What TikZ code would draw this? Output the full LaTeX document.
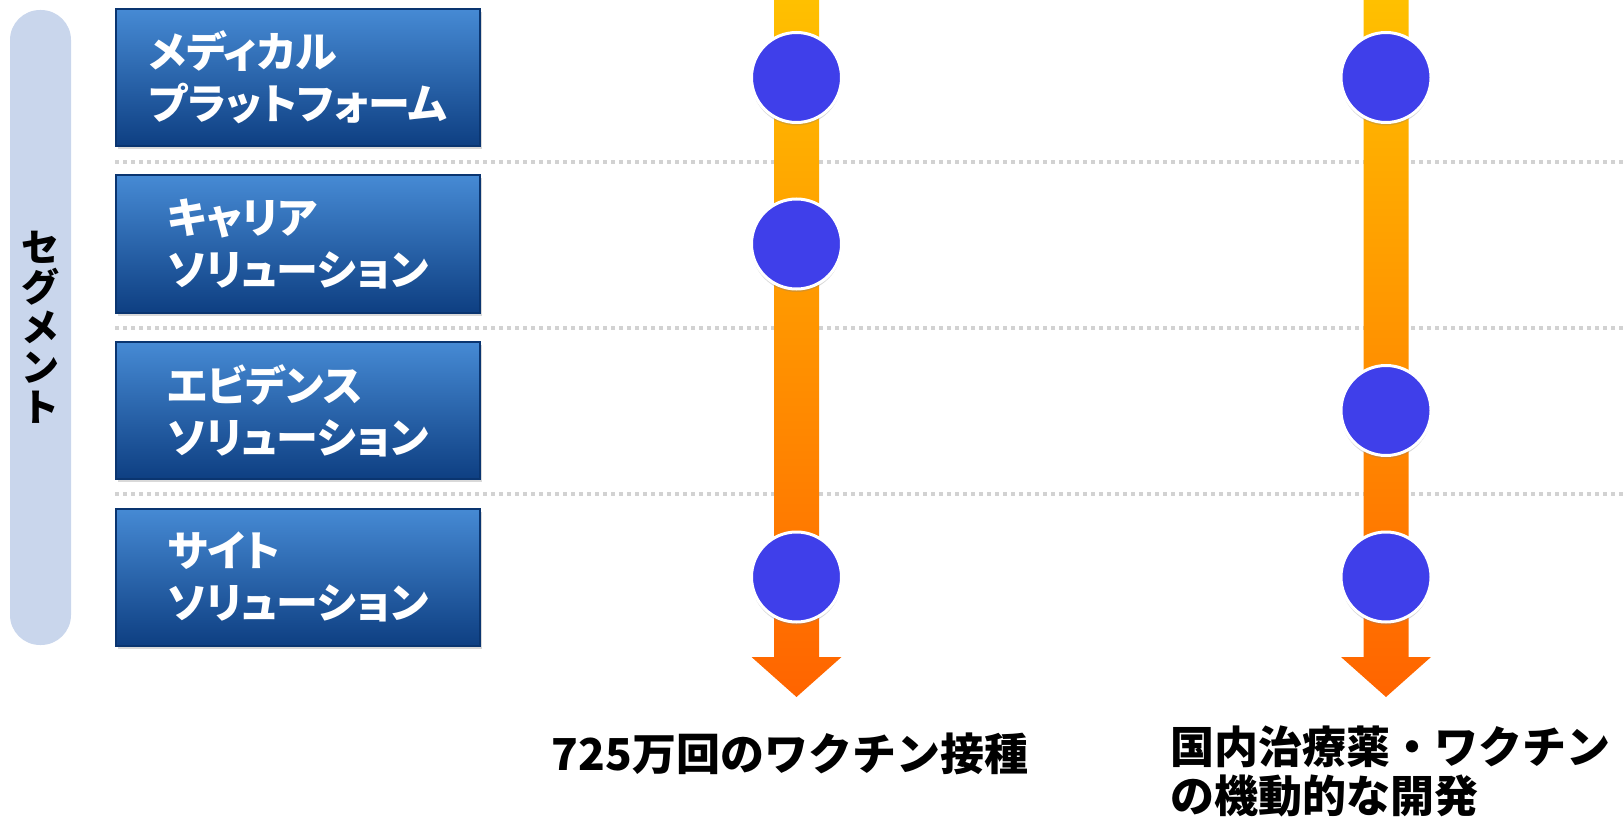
\documentclass[tikz,border=0pt]{standalone}
\usepackage{fontspec}
\newfontfamily\jpfont{Noto Sans CJK JP}[RawFeature=+palt]
\newfontfamily\jpplain{Noto Sans CJK JP}
\usetikzlibrary{positioning,shadows}

\definecolor{pillblue}{HTML}{C9D6EC}
\definecolor{boxtop}{HTML}{468AD4}
\definecolor{boxbottom}{HTML}{0E3F82}
\definecolor{boxedge}{HTML}{0A3570}
\definecolor{dotblue}{HTML}{3F3FEA}
\definecolor{arrowtop}{HTML}{FFC000}
\definecolor{arrowbottom}{HTML}{FF6400}
\definecolor{sepgray}{HTML}{D2D2D2}

\begin{document}
\begin{tikzpicture}[x=1pt, y=-1pt,
                    segnode/.style={rectangle, draw=boxedge, line width=2pt, top color=boxtop, bottom color=boxbottom, minimum width=364pt, minimum height=137pt, align=left, text=white, font=\jpfont\bfseries\fontsize{42}{52}\selectfont, drop shadow={shadow xshift=2pt, shadow yshift=-3pt, opacity=0.3}},
                    dotnode/.style={circle, draw=white, line width=3pt, fill=dotblue, minimum size=90pt, drop shadow={shadow xshift=0pt, shadow yshift=-3pt, opacity=0.3}},
                    sepline/.style={sepgray, line width=3.5pt, dash pattern=on 4pt off 4pt},
                    timearrow/.style={top color=arrowtop, bottom color=arrowbottom},
                    goalnode/.style={inner sep=0pt, align=left, font=\jpplain\bfseries\fontsize{44}{49}\selectfont},
                ]
                    \useasboundingbox (0,0) rectangle (1624,818);

                    %Segment label
                    \fill[pillblue, rounded corners=30pt] (10,10) rectangle (71,645);
                    \node[inner sep=0pt, align=center, font=\jpplain\bfseries\fontsize{38}{40}\selectfont](seg) at (40.5,327.5) {セ\\グ\\メ\\ン\\ト};

                    %Separators
                    \draw[sepline] (115,162) -- (1624,162);
                    \draw[sepline] (115,328) -- (1624,328);
                    \draw[sepline] (115,494) -- (1624,494);

                    %Nodes
                    \node[segnode](med) at (298,77.5) {メディカル\\プラットフォーム};
                    \node[segnode](car)[below=27.5pt of med] {キャリア\\ソリューション};
                    \node[segnode](evid)[below=27.5pt of car] {エビデンス\\ソリューション};
                    \node[segnode](site)[below=27.5pt of evid] {サイト\\ソリューション};

                    %Arrows
                    \coordinate (top1) at (796.5,0);
                    \coordinate (top2) at (1386,0);
                    \shade[timearrow, shift={(top1)}] (-22.5,0) -- (22.5,0) -- (22.5,657) -- (45,657) -- (0,697) -- (-45,657) -- (-22.5,657) -- cycle;
                    \shade[timearrow, shift={(top2)}] (-22.5,0) -- (22.5,0) -- (22.5,657) -- (45,657) -- (0,697) -- (-45,657) -- (-22.5,657) -- cycle;

                    %Dots
                    \node[dotnode](d1med) at (top1 |- med) {};
                    \node[dotnode](d1car) at (top1 |- car) {};
                    \node[dotnode](d1site) at (top1 |- site) {};
                    \node[dotnode](d2med) at (top2 |- med) {};
                    \node[dotnode](d2evid) at (top2 |- evid) {};
                    \node[dotnode](d2site) at (top2 |- site) {};

                    %Goals
                    \node[goalnode, anchor=base](goal1) at (790,770) {725万回のワクチン接種};
                    \node[goalnode, anchor=base west](goal2) at (1170,812) {国内治療薬・ワクチン\\の機動的な開発};
                \end{tikzpicture}
\end{document}
